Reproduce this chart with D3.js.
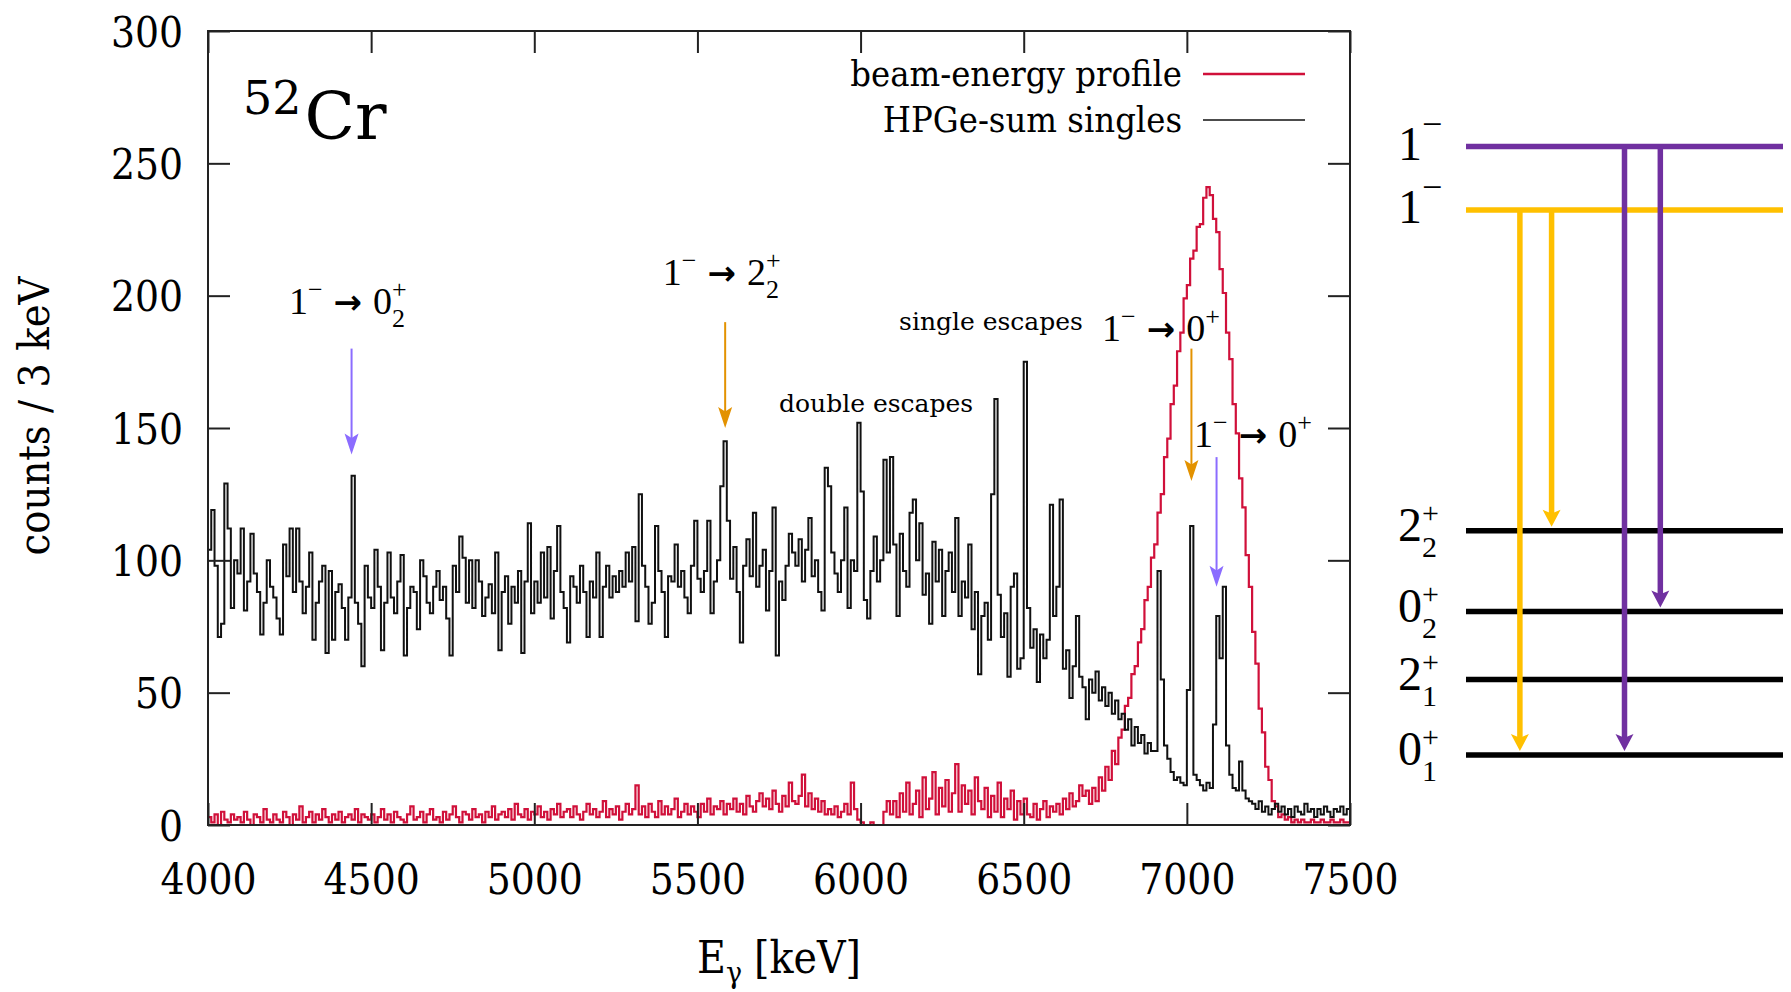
<!DOCTYPE html>
<html>
<head>
<meta charset="utf-8">
<script src="https://cdn.jsdelivr.net/npm/d3@7"></script>
<style>
  body { margin: 0; background: #fff; }
  svg { display: block; }
</style>
</head>
<body>
<div id="d3-container"></div>
<script>
// CONST and GLOBALS
const width = 1791,
  height = 992,
  margin = { top: 31, right: 441, bottom: 167, left: 208 },
  tickLen = 22;

const condensed = '"DejaVu Serif Condensed", "DejaVu Serif", serif';
const serif = '"Liberation Serif", "DejaVu Serif", serif';

// DATA
// spectra, 10 keV bins starting at 4000 keV
const binStart = 4000;
const binWidth = 10;
const binEnd = 7500;

// HPGe-sum singles (counts / bin)
const singlesCounts = [
  104, 119, 98, 71, 76, 129, 112, 82, 100, 95,
  112, 81, 92, 110, 95, 88, 72, 84, 100, 90,
  86, 78, 72, 106, 94, 112, 88, 112, 92, 80,
  90, 103, 70, 84, 92, 98, 65, 96, 70, 88,
  91, 82, 70, 86, 132, 84, 76, 60, 98, 86,
  82, 104, 90, 66, 84, 103, 86, 80, 92, 102,
  64, 82, 90, 88, 74, 100, 94, 84, 80, 90,
  96, 85, 90, 78, 64, 98, 88, 109, 101, 84,
  100, 82, 100, 92, 79, 86, 91, 80, 103, 66,
  88, 94, 76, 90, 84, 96, 65, 92, 114, 80,
  92, 84, 103, 86, 105, 78, 96, 113, 88, 82,
  69, 94, 90, 84, 98, 88, 71, 92, 86, 103,
  71, 90, 98, 86, 94, 88, 96, 90, 103, 92,
  105, 77, 125, 98, 90, 76, 84, 113, 96, 88,
  71, 94, 92, 106, 90, 96, 86, 80, 98, 115,
  93, 88, 96, 115, 80, 92, 100, 128, 145, 115,
  93, 105, 88, 69, 98, 108, 94, 118, 90, 98,
  104, 81, 96, 120, 64, 92, 85, 98, 110, 103,
  98, 108, 92, 104, 116, 94, 100, 88, 81, 135,
  128, 103, 95, 88, 100, 120, 82, 100, 96, 152,
  126, 85, 78, 96, 109, 92, 100, 138, 103, 139,
  106, 79, 110, 96, 90, 118, 123, 100, 114, 87,
  95, 76, 107, 92, 104, 79, 96, 103, 88, 116,
  79, 92, 86, 106, 74, 88, 57, 79, 84, 70,
  125, 161, 87, 71, 80, 56, 90, 95, 59, 63,
  175, 82, 67, 74, 54, 72, 63, 70, 121, 79,
  90, 123, 59, 66, 48, 60, 79, 56, 52, 40,
  55, 50, 58, 47, 52, 45, 50, 42, 47, 40,
  42, 36, 40, 30, 37, 31, 34, 27, 31, 28,
  28, 96, 55, 30, 25, 20, 17, 18, 16, 15,
  51, 113, 19, 17, 15, 13, 16, 14, 38, 79,
  63, 90, 30, 19, 14, 13, 24, 13, 10, 9,
  8, 6, 9, 5, 7, 4, 6, 8, 5, 7,
  4, 6, 3, 7, 5, 4, 8, 5, 6, 3,
  6, 4, 7, 5, 3, 6, 5, 7, 4, 6
];

// beam-energy profile (counts / bin)
const beamCounts = [
  3, 1, 4, 0, 5, 2, 1, 4, 2, 3,
  1, 5, 2, 0, 4, 3, 1, 6, 2, 1,
  4, 2, 1, 5, 3, 0, 4, 2, 7, 1,
  3, 5, 1, 4, 2, 6, 3, 1, 4, 2,
  5, 1, 3, 4, 2, 6, 1, 4, 3, 2,
  4, 1, 3, 6, 2, 4, 1, 5, 3, 2,
  1, 4, 7, 2, 3, 5, 1, 4, 6, 2,
  3, 1, 5, 2, 4, 7, 3, 1, 5, 4,
  2, 6, 3, 4, 1, 5, 3, 7, 2, 4,
  5, 3, 6, 2, 8, 4, 3, 6, 2, 5,
  4, 7, 3, 5, 2, 6, 4, 8, 3, 5,
  6, 3, 7, 4, 2, 5, 8, 4, 6, 3,
  5, 9, 3, 6, 4, 7, 2, 5, 8, 4,
  6, 15, 4, 7, 3, 8, 5, 3, 9, 4,
  7, 4, 6, 10, 3, 5, 8, 4, 7, 5,
  3, 8, 5, 10, 4, 7, 6, 9, 4, 8,
  6, 10, 5, 8, 4, 11, 7, 5, 9, 12,
  7, 10, 6, 13, 8, 5, 11, 7, 16, 9,
  8, 11, 19, 7, 12, 6, 10, 5, 9, 4,
  6, 4, 7, 3, 5, 8, 4, 16, 6, 2,
  1, 0, 0, 1, 0, 0, 0, 5, 9, 4,
  9, 3, 12, 5, 16, 4, 8, 13, 3, 18,
  6, 10, 20, 4, 14, 7, 17, 5, 12, 23,
  5, 15, 8, 13, 4, 18, 9, 6, 14, 3,
  11, 5, 16, 3, 10, 6, 13, 2, 9, 4,
  10, 4, 3, 8, 2, 6, 9, 3, 7, 5,
  8, 4, 10, 6, 12, 7, 9, 15, 11, 13,
  8, 14, 9, 18, 13, 22, 17, 28, 23, 33,
  36, 45, 48, 57, 60, 69, 74, 85, 90, 101,
  106, 118, 125, 139, 146, 159, 166, 179, 186, 199,
  204, 214, 217, 226, 227, 237, 241, 238, 229, 224,
  210, 201, 186, 176, 159, 148, 131, 120, 102, 90,
  73, 61, 44, 35, 22, 17, 9, 7, 3, 4,
  2, 3, 1, 2, 1, 2, 1, 1, 2, 1,
  1, 2, 1, 1, 2, 1, 1, 2, 1, 1
];

const xTicks = [4000, 4500, 5000, 5500, 6000, 6500, 7000, 7500];
const yTicks = [0, 50, 100, 150, 200, 250, 300];

const seriesNames = ['beam-energy profile', 'HPGe-sum singles'];

// transition labels in the spectrum: anchor [keV, counts]
const transitionLabels = [
  { e: 4248, c: 193, sub: '2', final: '0' },
  { e: 5394, c: 204, sub: '2', final: '2' },
  { e: 6740, c: 183, sub: '', final: '0' },
  { e: 7022, c: 143, sub: '', final: '0' }
];

// marker arrows: energy, start and end in counts, which 1- level decays
const peakArrows = [
  { e: 4440, from: 180, to: 140, level: 'upper' },
  { e: 5585, from: 190, to: 150, level: 'lower' },
  { e: 7014, from: 180, to: 130, level: 'lower' },
  { e: 7091, from: 139, to: 90, level: 'upper' }
];

const escapeLabels = [
  { e: 5750, c: 156, text: 'double escapes' },
  { e: 6118, c: 187, text: 'single escapes' }
];

// level scheme (schematic heights)
const levelSpin = ['0', '2', '0', '2', '1', '1'];
const levelParity = ['+', '+', '+', '+', '\u2212', '\u2212'];
const levelIndex = ['1', '1', '2', '2', '', ''];
const levelHeight = [0, 1, 1.9, 2.97, 7.22, 8.06];
const levelKind = ['low', 'low', 'low', 'low', 'lower', 'upper'];

// decays in the scheme: from level -> to level
const schemeDecays = [
  { from: 4, to: 0 },
  { from: 4, to: 3 },
  { from: 5, to: 0 },
  { from: 5, to: 2 }
];

// styles
const colors = {
  beam: '#d0103a',
  singles: '#111',
  upper: '#7030a0',
  lower: '#ffc000',
  low: '#000',
  arrowUpper: '#8b6cff',
  arrowLower: '#e39200'
};
const schemeArrowCols = [0.17, 0.27, 0.5, 0.613];

let svg;
let xScale;
let yScale;
let measurer;

function init() {
  xScale = d3
    .scaleLinear()
    .domain([binStart, binEnd])
    .range([margin.left, width - margin.right]);

  yScale = d3
    .scaleLinear()
    .domain([0, 300])
    .range([height - margin.bottom, margin.top]);

  svg = d3
    .select('#d3-container')
    .append('svg')
    .attr('width', width)
    .attr('height', height);

  svg.append('rect').attr('width', width).attr('height', height).attr('fill', '#fff');

  // hidden text used only for measuring widths
  measurer = svg.append('text').attr('x', -1000).attr('y', -1000).attr('visibility', 'hidden');

  draw();
}

function measure(str, family, size, weight) {
  measurer
    .attr('font-family', family)
    .attr('font-size', size)
    .attr('font-weight', weight || 'normal')
    .text(str);
  return measurer.node().getComputedTextLength();
}

// one <text> made of tspans laid out left to right, sup/sub stacked where needed
function richText(parent, x, y, parts) {
  const t = parent.append('text').attr('fill', '#000');
  let cx = x;
  parts.forEach(p => {
    if (p.gap) cx += p.gap;
    if (p.text !== undefined) {
      t.append('tspan')
        .attr('x', cx).attr('y', y)
        .attr('font-family', p.family).attr('font-size', p.size)
        .attr('font-weight', p.weight || 'normal')
        .text(p.text);
      cx += measure(p.text, p.family, p.size, p.weight);
    } else {
      let w = 0;
      if (p.sup) {
        t.append('tspan')
          .attr('x', cx).attr('y', y - p.raise)
          .attr('font-family', p.family).attr('font-size', p.size)
          .text(p.sup);
        w = Math.max(w, measure(p.sup, p.family, p.size));
      }
      if (p.sub) {
        t.append('tspan')
          .attr('x', cx).attr('y', y + p.drop)
          .attr('font-family', p.family).attr('font-size', p.size)
          .text(p.sub);
        w = Math.max(w, measure(p.sub, p.family, p.size));
      }
      cx += w;
    }
  });
  return { node: t, width: cx - x };
}

function arrowHead(g, x, tipY, w, len, color) {
  g.append('path')
    .attr('d', `M${x},${tipY} L${x - w / 2},${tipY - len} L${x},${tipY - len * 0.78} L${x + w / 2},${tipY - len} Z`)
    .attr('fill', color);
}

function draw() {
  const x0 = margin.left,
    x1 = width - margin.right,
    y0 = margin.top,
    y1 = height - margin.bottom;

  svg.append('clipPath').attr('id', 'plot-clip')
    .append('rect').attr('x', x0).attr('y', y0).attr('width', x1 - x0).attr('height', y1 - y0);

  const toSteps = counts => {
    const pts = counts.map((c, i) => [binStart + i * binWidth, c]);
    pts.push([binEnd, counts[counts.length - 1]]);
    return pts;
  };

  const line = d3
    .line()
    .x(d => xScale(d[0]))
    .y(d => yScale(d[1]))
    .curve(d3.curveStepAfter);

  const plot = svg.append('g').attr('clip-path', 'url(#plot-clip)');

  plot.append('path')
    .datum(toSteps(beamCounts))
    .attr('fill', 'none')
    .attr('stroke', colors.beam)
    .attr('stroke-width', 2.2)
    .attr('d', line);

  plot.append('path')
    .datum(toSteps(singlesCounts))
    .attr('fill', 'none')
    .attr('stroke', colors.singles)
    .attr('stroke-width', 2)
    .attr('d', line);

  // AXES (ticks inward, mirrored)
  const styleAxis = g => {
    g.select('.domain').remove();
    g.selectAll('line').attr('stroke', '#222').attr('stroke-width', 2);
  };

  svg.append('g')
    .attr('transform', `translate(0,${y1})`)
    .call(d3.axisBottom(xScale).tickValues(xTicks).tickSize(-tickLen).tickFormat(d3.format('d')))
    .call(styleAxis)
    .call(g => g.selectAll('text')
      .attr('y', 69).attr('dy', null)
      .attr('font-family', condensed).attr('font-size', 42).attr('fill', '#000'));

  svg.append('g')
    .attr('transform', `translate(0,${y0})`)
    .call(d3.axisTop(xScale).tickValues(xTicks).tickSize(-tickLen).tickFormat(''))
    .call(styleAxis);

  svg.append('g')
    .attr('transform', `translate(${x0},0)`)
    .call(d3.axisLeft(yScale).tickValues(yTicks).tickSize(-tickLen))
    .call(styleAxis)
    .call(g => g.selectAll('text')
      .attr('x', -25).attr('dy', '0.36em')
      .attr('font-family', condensed).attr('font-size', 42).attr('fill', '#000'));

  svg.append('g')
    .attr('transform', `translate(${x1},0)`)
    .call(d3.axisRight(yScale).tickValues(yTicks).tickSize(-tickLen).tickFormat(''))
    .call(styleAxis);

  svg.append('rect')
    .attr('x', x0).attr('y', y0).attr('width', x1 - x0).attr('height', y1 - y0)
    .attr('fill', 'none').attr('stroke', '#222').attr('stroke-width', 2);

  // axis titles
  svg.append('text')
    .attr('transform', `translate(49,${(y0 + y1) / 2 - 12}) rotate(-90)`)
    .attr('text-anchor', 'middle')
    .attr('font-family', condensed)
    .attr('font-size', 43)
    .text('counts / 3 keV');

  const xt = svg.append('g');
  const xtInfo = richText(xt, 0, 973, [
    { text: 'E', family: condensed, size: 44 },
    { sub: '\u03b3', family: condensed, size: 30, drop: 10 },
    { gap: 12, text: '[keV]', family: condensed, size: 44 }
  ]);
  xt.attr('transform', `translate(${(x0 + x1) / 2 - xtInfo.width / 2},0)`);

  // nucleus label
  richText(svg, 243, 139, [
    { sup: '52', family: '"DejaVu Serif", serif', size: 46, raise: 25 },
    { gap: 3, text: 'Cr', family: '"DejaVu Serif", serif', size: 66 }
  ]);

  // LEGEND
  const legend = svg.append('g');
  seriesNames.forEach((name, i) => {
    const ly = 74 + i * 46;
    legend.append('text')
      .attr('x', 1182).attr('y', ly + 12)
      .attr('text-anchor', 'end')
      .attr('font-family', condensed).attr('font-size', 36)
      .text(name);
    legend.append('line')
      .attr('x1', 1203).attr('x2', 1305).attr('y1', ly).attr('y2', ly)
      .attr('stroke', i === 0 ? colors.beam : colors.singles)
      .attr('stroke-width', i === 0 ? 2.4 : 1.6);
  });

  // escape labels
  escapeLabels.forEach(d => {
    svg.append('text')
      .attr('x', xScale(d.e)).attr('y', yScale(d.c))
      .attr('font-family', '"DejaVu Serif", serif').attr('font-size', 25)
      .text(d.text);
  });

  // transition labels
  const ann = svg.append('g');
  transitionLabels.forEach(d => {
    richText(ann, xScale(d.e), yScale(d.c), [
      { text: '1', family: serif, size: 38 },
      { sup: '\u2212', family: serif, size: 26, raise: 16 },
      { gap: 11, text: '\u2192', family: '"DejaVu Sans", sans-serif', size: 34, weight: 'bold' },
      { gap: 11, text: d.final, family: serif, size: 38 },
      { sup: '+', sub: d.sub, family: serif, size: 26, raise: 16, drop: 13 }
    ]);
  });

  // marker arrows
  peakArrows.forEach(d => {
    const col = d.level === 'upper' ? colors.arrowUpper : colors.arrowLower;
    const ax = xScale(d.e);
    ann.append('line')
      .attr('x1', ax).attr('x2', ax)
      .attr('y1', yScale(d.from)).attr('y2', yScale(d.to) - 10)
      .attr('stroke', col).attr('stroke-width', 2);
    arrowHead(ann, ax, yScale(d.to), 14, 21, col);
  });

  // LEVEL SCHEME
  const schemeX = d3.scaleLinear().domain([0, 1]).range([1466, 1783]);
  const schemeY = d3.scaleLinear().domain([0, d3.max(levelHeight)]).range([755, 146.5]);
  const scheme = svg.append('g');

  levelHeight.forEach((h, i) => {
    scheme.append('line')
      .attr('x1', schemeX(0)).attr('x2', schemeX(1))
      .attr('y1', schemeY(h)).attr('y2', schemeY(h))
      .attr('stroke', colors[levelKind[i]])
      .attr('stroke-width', 5.5);

    const parts = [{ text: levelSpin[i], family: serif, size: 48 }];
    let base = schemeY(h) + 13;
    if (levelIndex[i]) {
      base = schemeY(h) + 10;
      parts.push({ sup: levelParity[i], sub: levelIndex[i], family: serif, size: 30, raise: 18, drop: 16 });
    } else {
      parts.push({ sup: levelParity[i], family: serif, size: 36, raise: 24 });
    }
    richText(scheme, 1398, base, parts);
  });

  schemeDecays.forEach((d, i) => {
    const col = colors[levelKind[d.from]];
    const ax = schemeX(schemeArrowCols[i]);
    const tip = schemeY(levelHeight[d.to]) - 4;
    scheme.append('line')
      .attr('x1', ax).attr('x2', ax)
      .attr('y1', schemeY(levelHeight[d.from])).attr('y2', tip - 12)
      .attr('stroke', col).attr('stroke-width', 5.5);
    arrowHead(scheme, ax, tip, 18, 17, col);
  });
}

// kick things off
init();
</script>
</body>
</html>
